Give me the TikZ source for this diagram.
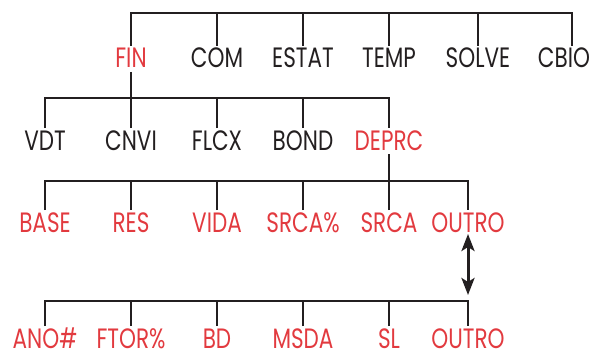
\documentclass[tikz,border=0pt]{standalone}
\usepackage{fontspec}
\setmainfont[FakeStretch=0.77]{Poppins}
\usepackage{xcolor}
\usepackage{tikz}
\usetikzlibrary{positioning, arrows.meta}
\definecolor{MenuRed}{HTML}{E23A3F}
\definecolor{MenuBlack}{HTML}{231F20}

\begin{document}
\begin{tikzpicture}[
            x=1pt, y=-1pt,
            menu/.style={text=MenuBlack, font=\fontsize{28}{28}\selectfont, anchor=base, inner sep=0pt, text height=18pt, text depth=0pt, outer sep=4pt},
            active/.style={menu, text=MenuRed},
            branch/.style={draw=MenuBlack, line width=2pt},
            updown/.style={{Stealth[length=17pt, width=13pt, inset=4pt]}-{Stealth[length=17pt, width=13pt, inset=4pt]}, line width=3pt, MenuBlack}
        ]
            \useasboundingbox (0,0) rectangle (589,353);

            % bars
            \coordinate (bar1) at (0,13);
            \coordinate (bar2) at (0,98);
            \coordinate (bar3) at (0,181);
            \coordinate (bar4) at (0,301);

            % main menu
            \node[active] (fin) at (131,68) {FIN};
            \node[menu] (com) at (217,68) {COM};
            \node[menu] (estat) at (303,68) {ESTAT};
            \node[menu] (temp) at (389,68) {TEMP};
            \node[menu] (solve) at (478,68) {SOLVE};
            \node[menu] (cbio) at (564,68) {CBIO};

            % FIN menu
            \node[menu] (vdt) at (45,150) {VDT};
            \node[menu] (cnvi) at (131,150) {CNVI};
            \node[menu] (flcx) at (217,150) {FLCX};
            \node[menu] (bond) at (303,150) {BOND};
            \node[active] (deprc) at (389,150) {DEPRC};

            % DEPRC menu, page 1
            \node[active] (base) at (45,232) {BASE};
            \node[active] (res) at (131,232) {RES};
            \node[active] (vida) at (217,232) {VIDA};
            \node[active] (srcap) at (303,232) {SRCA\%};
            \node[active] (srca) at (389,232) {SRCA};
            \node[active] (outroa) at (468,232) {OUTRO};

            % DEPRC menu, page 2
            \node[active] (ano) at (45,348) {ANO\#};
            \node[active] (ftor) at (131,348) {FTOR\%};
            \node[active] (bd) at (217,348) {BD};
            \node[active] (msda) at (303,348) {MSDA};
            \node[active] (sl) at (389,348) {SL};
            \node[active] (outrob) at (468,348) {OUTRO};

            % tree lines
            \draw[branch] (fin.north) -- (fin.north |- bar1) -| ([xshift=8pt]cbio.north);
            \foreach \n in {com, estat, temp, solve}
                \draw[branch] (\n.north) -- (\n.north |- bar1);

            \draw[branch] (fin.south) -- (fin.south |- bar2);
            \draw[branch] (vdt.north) -- (vdt.north |- bar2) -| (deprc.north);
            \foreach \n in {cnvi, flcx, bond}
                \draw[branch] (\n.north) -- (\n.north |- bar2);

            \draw[branch] (deprc.south) -- (deprc.south |- bar3);
            \draw[branch] (base.north) -- (base.north |- bar3) -| (outroa.north);
            \foreach \n in {res, vida, srcap, srca}
                \draw[branch] (\n.north) -- (\n.north |- bar3);

            \draw[branch] (ano.north) -- (ano.north |- bar4) -| (outrob.north);
            \foreach \n in {ftor, bd, msda, sl}
                \draw[branch] (\n.north) -- (\n.north |- bar4);

            % page switch
            \coordinate (flip) at (468,295);
            \draw[updown] ([yshift=2pt]outroa.south) -- (flip);

        \end{tikzpicture}
\end{document}
